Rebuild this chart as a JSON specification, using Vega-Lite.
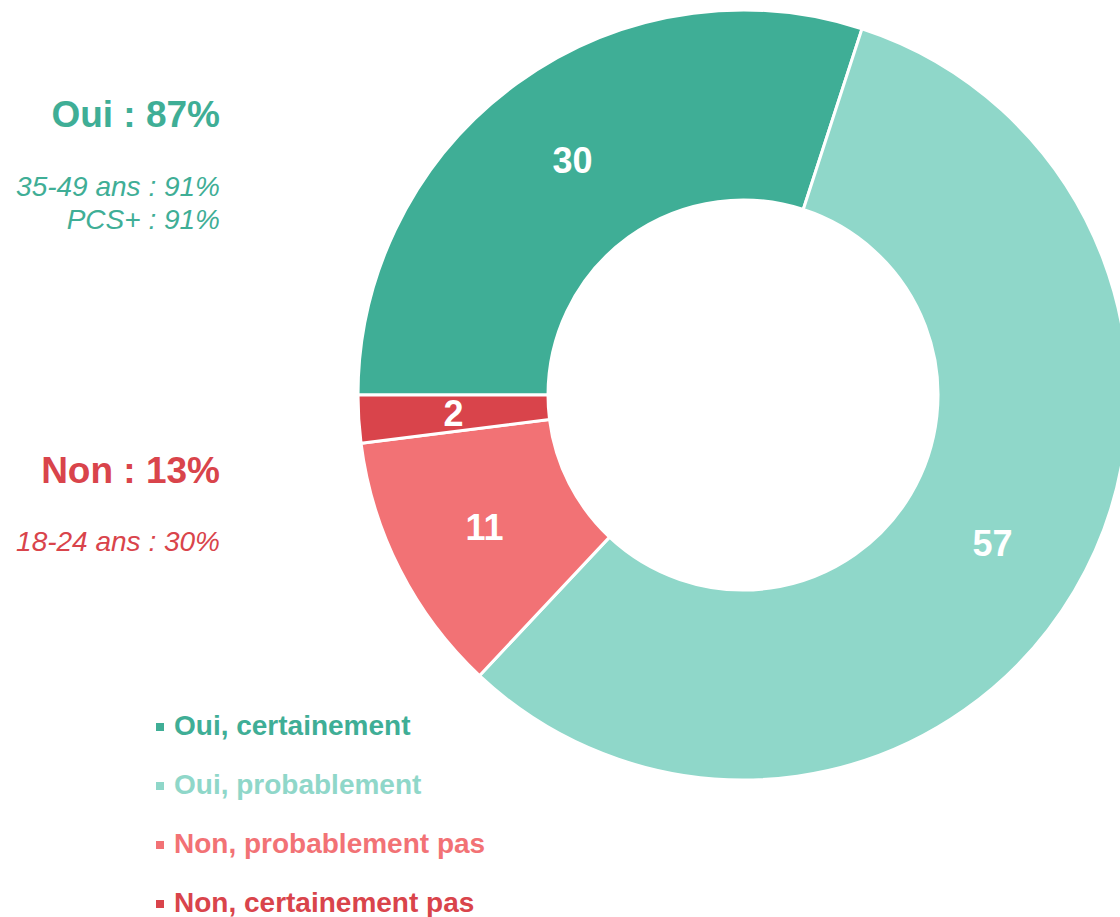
{
  "$schema": "https://vega.github.io/schema/vega-lite/v6.json",
  "width": 1120,
  "height": 917,
  "autosize": {"type": "none"},
  "padding": 0,
  "background": "white",
  "config": {"view": {"stroke": null}, "font": "Liberation Sans"},
  "datasets": {
    "reponses": [
      {"reponse": "Oui, certainement", "pct": 30, "rang": 1},
      {"reponse": "Oui, probablement", "pct": 57, "rang": 2},
      {"reponse": "Non, probablement pas", "pct": 11, "rang": 3},
      {"reponse": "Non, certainement pas", "pct": 2, "rang": 4}
    ],
    "notes": [
      {"texte": "Oui : 87%", "groupe": "Oui", "type": "titre", "ligne": 1},
      {"texte": "35-49 ans : 91%", "groupe": "Oui", "type": "detail", "ligne": 2},
      {"texte": "PCS+ : 91%", "groupe": "Oui", "type": "detail", "ligne": 3},
      {"texte": "Non : 13%", "groupe": "Non", "type": "titre", "ligne": 4},
      {"texte": "18-24 ans : 30%", "groupe": "Non", "type": "detail", "ligne": 5}
    ]
  },
  "layer": [
    {
      "data": {"name": "reponses"},
      "mark": {"type": "arc", "x": 743, "y": 395, "radius": 385, "radius2": 195, "stroke": "white", "strokeWidth": 3},
      "encoding": {
        "theta": {"field": "pct", "type": "quantitative", "stack": true, "scale": {"range": [4.712389, 10.995574]}},
        "order": {"field": "rang", "type": "quantitative"},
        "color": {
          "field": "reponse",
          "type": "nominal",
          "sort": ["Oui, certainement", "Oui, probablement", "Non, probablement pas", "Non, certainement pas"],
          "scale": {
            "domain": ["Oui, certainement", "Oui, probablement", "Non, probablement pas", "Non, certainement pas"],
            "range": ["#3fae96", "#8fd7c9", "#f27275", "#d9444b"]
          },
          "legend": {
            "title": null,
            "orient": "none",
            "legendX": 146,
            "legendY": 713,
            "symbolType": "square",
            "symbolSize": 64,
            "symbolStrokeWidth": 0,
            "labelFont": "Liberation Sans",
            "labelFontSize": 28,
            "labelFontWeight": "bold",
            "labelColor": {"expr": "scale('color', datum.value)"},
            "labelOffset": 0,
            "rowPadding": 31,
            "labelLimit": 600
          }
        }
      }
    },
    {
      "data": {"name": "reponses"},
      "mark": {"type": "text", "x": 743, "y": 397, "radius": 290, "fill": "white", "font": "Liberation Sans", "fontSize": 36, "fontWeight": "bold", "align": "center", "baseline": "middle"},
      "encoding": {
        "theta": {"field": "pct", "type": "quantitative", "stack": true},
        "order": {"field": "rang", "type": "quantitative"},
        "text": {"field": "pct", "type": "quantitative"}
      }
    },
    {
      "data": {"name": "notes"},
      "transform": [{"filter": "datum.ligne == 1"}],
      "mark": {"type": "text", "x": 220, "y": 127, "align": "right", "baseline": "alphabetic", "font": "Liberation Sans", "fontSize": 37, "fontWeight": "bold", "fill": "#3fae96"},
      "encoding": {"text": {"field": "texte"}}
    },
    {
      "data": {"name": "notes"},
      "transform": [{"filter": "datum.ligne == 2"}],
      "mark": {"type": "text", "x": 220, "y": 196, "align": "right", "baseline": "alphabetic", "font": "Liberation Sans", "fontSize": 28, "fontStyle": "italic", "fill": "#3fae96"},
      "encoding": {"text": {"field": "texte"}}
    },
    {
      "data": {"name": "notes"},
      "transform": [{"filter": "datum.ligne == 3"}],
      "mark": {"type": "text", "x": 220, "y": 229, "align": "right", "baseline": "alphabetic", "font": "Liberation Sans", "fontSize": 28, "fontStyle": "italic", "fill": "#3fae96"},
      "encoding": {"text": {"field": "texte"}}
    },
    {
      "data": {"name": "notes"},
      "transform": [{"filter": "datum.ligne == 4"}],
      "mark": {"type": "text", "x": 220, "y": 483, "align": "right", "baseline": "alphabetic", "font": "Liberation Sans", "fontSize": 37, "fontWeight": "bold", "fill": "#d9444b"},
      "encoding": {"text": {"field": "texte"}}
    },
    {
      "data": {"name": "notes"},
      "transform": [{"filter": "datum.ligne == 5"}],
      "mark": {"type": "text", "x": 220, "y": 551, "align": "right", "baseline": "alphabetic", "font": "Liberation Sans", "fontSize": 28, "fontStyle": "italic", "fill": "#d9444b"},
      "encoding": {"text": {"field": "texte"}}
    }
  ]
}
